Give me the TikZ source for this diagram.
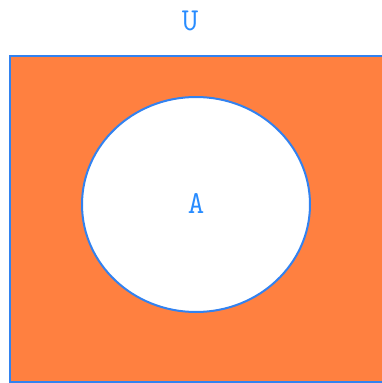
\documentclass[tikz,border=0pt]{standalone}
\usepackage{xcolor}
\usepackage{tikz}
\usetikzlibrary{positioning,shapes.geometric}
\definecolor{setorange}{RGB}{255,128,64}
\definecolor{lineblue}{RGB}{50,130,240}
\definecolor{textblue}{RGB}{40,140,255}

\begin{document}
\begin{tikzpicture}[x=1pt,y=-1pt]
  \tikzstyle{lbl}=[text=textblue,font=\ttfamily\fontsize{32}{32}\selectfont,inner sep=0pt]
  \tikzstyle{setA}=[ellipse,draw=lineblue,line width=2pt,fill=white,minimum width=228pt,minimum height=215pt,inner sep=0pt]
  \clip (0,0) rectangle (382,383);
  \fill[white] (0,0) rectangle (382,383);
  % universe
  \fill[setorange] (9.5,55.5) rectangle (400,381.5);
  \draw[color=lineblue,line width=2pt] (9.5,55.5) rectangle (400,381.5);
  \node[lbl] (U) at (190,21) {U};
  % the set A
  \node[setA] (A) at (196,204.5) {};
  \node[lbl] (Alabel) at (196,203) {A};
\end{tikzpicture}
\end{document}
